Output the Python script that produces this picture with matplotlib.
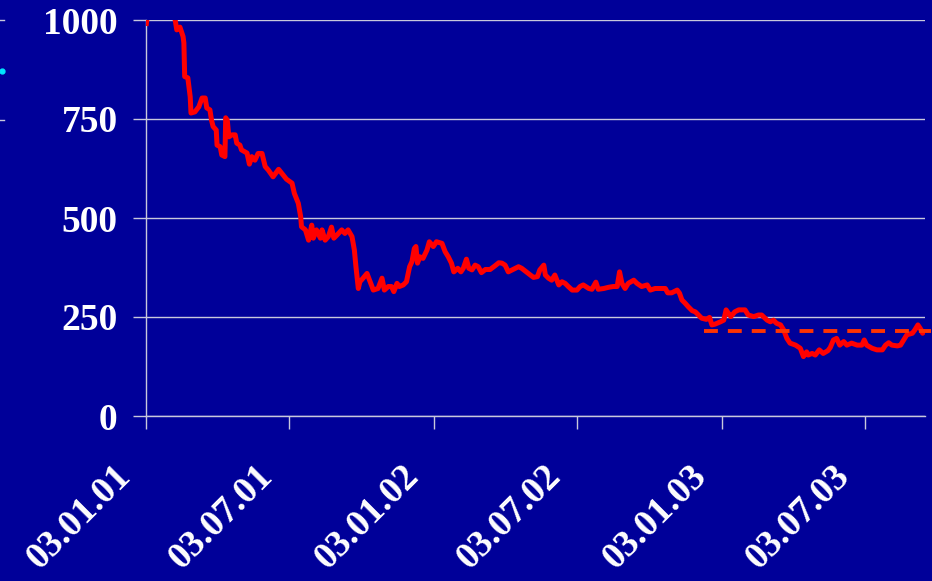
import datetime as dt

import matplotlib
matplotlib.use("Agg")
import matplotlib.pyplot as plt
from matplotlib.font_manager import FontProperties
from matplotlib.lines import Line2D
from matplotlib.transforms import ScaledTranslation

# Index level (base 1000 on 3 Jan 2001); offsets are calendar days from that date
START = dt.date(2001, 1, 3)
day_offsets = [
    0, 2, 5, 15, 25, 33, 37, 39, 43, 47, 48, 49, 53, 56, 57, 62, 67, 71, 75, 77, 81,
    83, 85, 89, 90, 94, 96, 100, 101, 103, 105, 109, 113, 115, 119, 121, 128, 131, 134, 138, 142,
    147, 151, 155, 161, 168, 172, 178, 185, 188, 193, 196, 197, 202, 206, 210, 212, 216, 221, 223, 227,
    231, 235, 238, 242, 248, 252, 256, 261, 264, 266, 269, 271, 275, 280, 284, 288, 294, 299, 302, 307,
    311, 314, 318, 321, 326, 330, 334, 337, 340, 342, 344, 347, 351, 356, 359, 364, 368, 375, 379, 383,
    387, 390, 395, 399, 402, 406, 409, 413, 417, 421, 425, 430, 436, 442, 447, 451, 455, 459, 465, 472,
    476, 483, 487, 491, 496, 499, 504, 506, 510, 514, 518, 523, 527, 531, 535, 540, 546, 550, 554, 561,
    565, 570, 573, 580, 586, 592, 597, 600, 603, 607, 611, 618, 622, 628, 635, 639, 645, 651, 658, 661,
    666, 673, 676, 679, 683, 687, 692, 696, 700, 704, 710, 714, 717, 721, 728, 732, 735, 738, 741, 746,
    751, 759, 763, 770, 776, 780, 787, 791, 795, 799, 804, 808, 812, 816, 823, 829, 833, 837, 839, 844,
    848, 853, 858, 864, 867, 871, 875, 879, 884, 888, 894, 901, 907, 910, 913, 920, 926, 933, 937, 941,
    945, 952, 956, 960, 964, 971, 974, 978, 981, 984, 987,
]
index_level = [
    985, 1015, 1030, 1060, 1045, 1020, 1000, 975, 982, 958, 942, 857, 854, 806, 765, 768, 781, 803, 803, 778, 773,
    747, 731, 722, 684, 680, 659, 655, 753, 747, 705, 710, 710, 689, 684, 672, 664, 636, 655, 646, 663,
    663, 630, 621, 604, 623, 613, 598, 588, 562, 537, 503, 478, 470, 444, 482, 449, 470, 449, 470, 444,
    453, 477, 449, 457, 470, 461, 470, 453, 419, 377, 322, 339, 348, 360, 339, 318, 322, 348, 318, 327,
    327, 314, 335, 327, 331, 339, 377, 390, 423, 428, 386, 402, 398, 419, 440, 428, 440, 436, 415, 402,
    386, 364, 373, 364, 373, 396, 373, 369, 381, 377, 362, 370, 370, 379, 387, 386, 381, 364, 370, 377,
    373, 362, 356, 350, 352, 369, 381, 356, 348, 343, 356, 331, 339, 335, 327, 318, 318, 327, 331, 322,
    320, 338, 320, 322, 325, 327, 327, 364, 335, 322, 335, 343, 335, 327, 331, 318, 322, 322, 322, 311,
    311, 318, 310, 293, 285, 276, 266, 263, 255, 247, 244, 249, 230, 232, 238, 242, 268, 259, 251, 263,
    268, 268, 255, 251, 255, 255, 242, 238, 242, 234, 230, 217, 196, 184, 179, 171, 150, 162, 154, 158,
    154, 167, 158, 165, 173, 192, 196, 179, 188, 179, 184, 179, 179, 192, 179, 171, 167, 167, 179, 185,
    179, 177, 179, 192, 205, 209, 217, 230, 221, 209, 217,
]

# Reference level drawn as a dashed line over the last months
reference_level = 215
reference_start_offset = 707
axis_end_offset = 987

tick_labels = ["03.01.01", "03.07.01", "03.01.02", "03.07.02", "03.01.03", "03.07.03"]
y_ticks = [0, 250, 500, 750, 1000]

BG = "#000099"
GRID = "#C8C8DC"
WHITE = "#FFFFFF"

dates = [START + dt.timedelta(days=d) for d in day_offsets]
tick_dates = [dt.datetime.strptime(t, "%d.%m.%y").date() for t in tick_labels]

fig = plt.figure(figsize=(9.32, 5.81), dpi=100, facecolor=BG)
ax = fig.add_axes([146 / 932, 165 / 581, 779 / 932, 396 / 581], facecolor=BG)

ax.plot(dates, index_level, color="#FF0000", lw=3.6,
        solid_joinstyle="round", solid_capstyle="butt", zorder=3)

ref_start = START + dt.timedelta(days=reference_start_offset)
ref_end = START + dt.timedelta(days=axis_end_offset + 7)
ax.plot([ref_start, ref_end], [reference_level, reference_level],
        color="#FF3300", lw=2.8, dashes=(3.57, 2.57), clip_on=False, zorder=4)

ax.set_xlim(START, START + dt.timedelta(days=axis_end_offset))
ax.set_ylim(0, 1000)

ax.set_yticks(y_ticks)
ax.set_yticklabels([str(v) for v in y_ticks])
ax.set_xticks(tick_dates)
ax.set_xticklabels(tick_labels)

ax.yaxis.grid(True, color=GRID, lw=1)
ax.set_axisbelow(True)

for side in ("top", "right"):
    ax.spines[side].set_visible(False)
for side in ("left", "bottom"):
    ax.spines[side].set_color(GRID)
    ax.spines[side].set_linewidth(1)

ax.tick_params(axis="both", direction="out", length=9.4, width=1, color=GRID)
ax.tick_params(axis="y", pad=11)
ax.tick_params(axis="x", pad=0)

label_font = dict(family="Liberation Serif", weight="bold", size=27)
for lab in ax.get_yticklabels():
    lab.set_fontproperties(FontProperties(**label_font))
    lab.set_color(WHITE)

shift = ScaledTranslation(-0.21, -0.42, fig.dpi_scale_trans)
for lab in ax.get_xticklabels():
    lab.set_fontproperties(FontProperties(**label_font))
    lab.set_color(WHITE)
    lab.set_rotation(45)
    lab.set_ha("right")
    lab.set_va("center")
    lab.set_rotation_mode("anchor")
    lab.set_transform(lab.get_transform() + shift)

# Small marks along the left slide edge
for yy in (20, 120):
    fig.add_artist(Line2D([0, 4 / 932], [1 - yy / 581] * 2, color=GRID, lw=1))
fig.add_artist(Line2D([1.5 / 932], [1 - 71 / 581], marker="o", ms=3.5,
                      color="#00E5FF", lw=0))

fig.savefig("out.png", dpi=100, facecolor=BG)
